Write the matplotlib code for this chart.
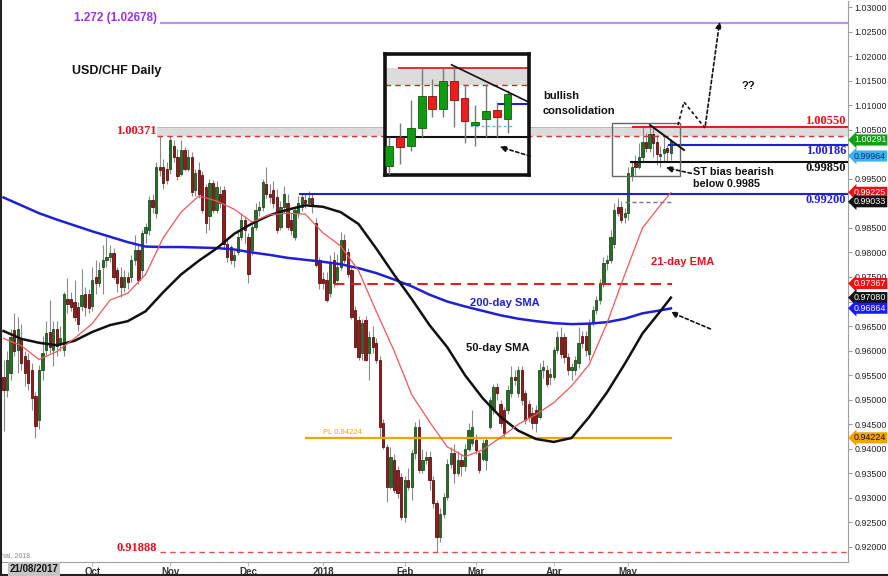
import numpy as np
import pandas as pd
import matplotlib
matplotlib.use("Agg")
import matplotlib.pyplot as plt
from matplotlib.transforms import blended_transform_factory
from matplotlib.patches import Rectangle
from matplotlib.lines import Line2D

# ---------------- data ----------------
start_date = "2017-08-28"

opens = [
    .9547, .9520, .9554, .9642, .9601, .9625, .9590, .9581, .9561, .9507,
    .9459, .9561, .9601, .9638, .9601, .9645, .9614, .9601, .9706, .9706,
    .9700, .9689, .9690, .9716, .9716, .9690, .9750, .9737, .9771, .9784,
    .9791, .9798, .9764, .9750, .9730, .9750, .9750, .9784, .9805, .9764,
    .9839, .9846, .9907, .9880, .9975, .9975, .9971, .9971, 1.0016, .9995,
    .9960, 1.0009, .9971, .9995, .9927, .9968, .9957, .9934, .9875, .9941,
    .9886, .9920, .9927, .9818, .9811, .9784, .9800, .9832, .9866, .9832,
    .9805, .9852, .9886, .9893, .9939, .9920, .9927, .9913, .9852, .9893,
    .9900, .9866, .9832, .9880, .9893, .9907, .9900, .9910, .9861, .9784,
    .9745, .9744, .9717, .9784, .9744, .9771, .9825, .9800, .9764, .9683,
    .9662, .9595, .9662, .9595, .9628, .9615, .9581, .9452, .9404, .9323,
    .9377, .9357, .9343, .9261, .9336, .9323, .9391, .9445, .9357, .9377,
    .9384, .9336, .9289, .9221, .9268, .9302, .9370, .9391, .9350, .9377,
    .9365, .9400, .9411, .9418, .9391, .9380, .9377, .9445, .9479, .9526,
    .9492, .9479, .9479, .9513, .9547, .9513, .9560, .9513, .9492, .9472,
    .9479, .9465, .9560, .9560, .9547, .9547, .9601, .9628, .9628, .9588,
    .9560, .9560, .9574, .9629, .9629, .9594, .9656, .9683, .9703, .9737,
    .9778, .9784, .9818, .9893, .9893, .9872, .9880, .9955, .9985, .9975,
    .9994, 1.0026, 1.0013, 1.0042, 1.0024, .9997, 1.0003, 1.0012, 1.0003,
]
highs = [
    .9580, .9600, .9645, .9676, .9669, .9655, .9600, .9595, .9575, .9515,
    .9570, .9630, .9660, .9703, .9660, .9660, .9650, .9720, .9747, .9720,
    .9743, .9700, .9767, .9730, .9725, .9770, .9784, .9780, .9815, .9832,
    .9815, .9810, .9770, .9770, .9765, .9760, .9795, .9836, .9815, .9845,
    .9860, .9915, .9920, .9985, 1.0037, .9990, .9985, 1.0037, 1.0030, 1.0010,
    1.0030, 1.0015, 1.0010, 1.0005, .9970, .9985, .9965, .9940, .9950, .9948,
    .9945, .9935, .9935, .9825, .9815, .9805, .9845, .9880, .9875, .9840,
    .9860, .9900, .9905, .9950, .9974, .9940, .9945, .9930, .9905, .9935,
    .9920, .9880, .9895, .9915, .9922, .9920, .9925, .9920, .9870, .9790,
    .9760, .9760, .9795, .9800, .9796, .9842, .9838, .9810, .9770, .9690,
    .9670, .9665, .9670, .9640, .9650, .9625, .9590, .9460, .9410, .9404,
    .9390, .9365, .9350, .9345, .9360, .9400, .9455, .9460, .9400, .9395,
    .9395, .9345, .9295, .9280, .9310, .9380, .9404, .9410, .9395, .9390,
    .9410, .9452, .9479, .9430, .9395, .9420, .9425, .9505, .9533, .9535,
    .9500, .9485, .9530, .9568, .9560, .9568, .9568, .9520, .9500, .9485,
    .9490, .9574, .9580, .9570, .9565, .9608, .9640, .9649, .9635, .9595,
    .9575, .9590, .9649, .9640, .9640, .9665, .9690, .9712, .9745, .9790,
    .9795, .9845, .9900, .9910, .9905, .9890, .9975, .9985, .9999, 1.0022,
    1.0055, 1.0044, 1.0055, 1.0055, 1.0039, 1.0017, 1.0039, 1.0019, 1.0032,
]
lows = [
    .9436, .9505, .9540, .9590, .9555, .9560, .9527, .9520, .9480, .9422,
    .9440, .9540, .9590, .9595, .9568, .9590, .9600, .9590, .9676, .9680,
    .9660, .9640, .9680, .9670, .9676, .9680, .9716, .9730, .9716, .9771,
    .9780, .9745, .9720, .9710, .9720, .9725, .9740, .9775, .9735, .9750,
    .9820, .9835, .9880, .9870, .9955, .9930, .9940, .9960, .9985, .9948,
    .9955, .9965, .9965, .9915, .9915, .9910, .9880, .9840, .9845, .9880,
    .9880, .9890, .9810, .9780, .9776, .9770, .9795, .9825, .9820, .9737,
    .9795, .9845, .9875, .9885, .9910, .9900, .9890, .9840, .9845, .9880,
    .9845, .9835, .9825, .9870, .9885, .9890, .9895, .9880, .9770, .9725,
    .9725, .9700, .9710, .9730, .9740, .9765, .9778, .9750, .9665, .9605,
    .9581, .9581, .9578, .9540, .9595, .9575, .9425, .9400, .9292, .9318,
    .9310, .9300, .9255, .9250, .9316, .9295, .9380, .9350, .9350, .9370,
    .9316, .9280, .91888, .9210, .9260, .9295, .9360, .9330, .9345, .9345,
    .9355, .9395, .9405, .9390, .9350, .9375, .9357, .9440, .9470, .9500,
    .9445, .9425, .9470, .9505, .9530, .9505, .9490, .9450, .9455, .9440,
    .9435, .9460, .9545, .9525, .9530, .9540, .9595, .9585, .9575, .9550,
    .9540, .9550, .9565, .9605, .9590, .9581, .9650, .9675, .9695, .9730,
    .9765, .9778, .9810, .9875, .9860, .9860, .9866, .9946, .9957, .9970,
    .9985, 1.0005, 1.0005, .9995, .9979, .9975, .9985, .9985, .9989,
]
closes = [
    .9520, .9580, .9628, .9600, .9645, .9574, .9554, .9534, .9503, .9446,
    .9561, .9595, .9635, .9608, .9645, .9610, .9625, .9716, .9696, .9689,
    .9669, .9655, .9713, .9689, .9686, .9743, .9737, .9764, .9784, .9791,
    .9798, .9750, .9737, .9730, .9750, .9740, .9784, .9805, .9744, .9839,
    .9852, .9907, .9893, .9975, .9968, .9941, .9948, 1.0029, .9995, .9955,
    1.0009, .9971, .9995, .9924, .9961, .9920, .9886, .9859, .9941, .9886,
    .9934, .9900, .9818, .9790, .9784, .9795, .9832, .9866, .9845, .9757,
    .9852, .9886, .9893, .9944, .9920, .9913, .9900, .9845, .9893, .9920,
    .9852, .9845, .9886, .9900, .9913, .9900, .9910, .9895, .9775, .9737,
    .9737, .9703, .9777, .9737, .9771, .9825, .9784, .9757, .9669, .9608,
    .9588, .9656, .9581, .9628, .9608, .9581, .9445, .9404, .9323, .9384,
    .9316, .9309, .9261, .9336, .9323, .9391, .9445, .9357, .9377, .9384,
    .9336, .9289, .9221, .9268, .9302, .9370, .9391, .9350, .9377, .9365,
    .9400, .9438, .9445, .9398, .9357, .9411, .9418, .9499, .9526, .9513,
    .9452, .9432, .9520, .9547, .9540, .9560, .9499, .9459, .9465, .9452,
    .9452, .9560, .9567, .9533, .9553, .9601, .9628, .9594, .9587, .9560,
    .9567, .9581, .9615, .9615, .9601, .9656, .9683, .9703, .9737, .9778,
    .9784, .9832, .9886, .9880, .9866, .9880, .9961, .9975, .9974, .9994,
    1.0026, 1.0013, 1.0042, 1.0022, 1.0001, 1.0000, 1.0011, 1.0005, 1.0028,
]

ma_days = [0, 5, 10, 15, 20, 25, 30, 35, 40, 45, 50, 55, 60, 65, 70, 75, 80, 85, 90, 95,
           100, 105, 110, 115, 120, 125, 130, 135, 140, 145, 150, 155, 160, 165, 170, 175,
           180, 185, 188]
sma200 = [.9912, .9896, .9880, .9867, .9855, .9843, .9832, .9821, .9812, .9811,
          .9811, .9810, .9809, .9806, .9800, .9795, .9789, .9785, .9781, .9776,
          .9768, .9758, .9745, .9731, .9714, .9700, .9690, .9681, .9672, .9665,
          .9660, .9656, .9654, .9655, .9658, .9665, .9676, .9682, .9686]
sma50 = [.9640, .9624, .9616, .9611, .9620, .9638, .9652, .9660, .9680, .9719,
         .9755, .9783, .9808, .9838, .9859, .9876, .9887, .9896, .9893, .9882,
         .9858, .9808, .9755, .9705, .9652, .9607, .9550, .9503, .9465, .9437,
         .9420, .9414, .9422, .9465, .9515, .9573, .9635, .9680, .9708]
ema21 = [.9625, .9610, .9582, .9598, .9625, .9655, .9703, .9717, .9755, .9830,
         .9882, .9915, .9905, .9888, .9862, .9877, .9880, .9878, .9840, .9813,
         .9763, .9680, .9600, .9510, .9455, .9404, .9384, .9398, .9423, .9450,
         .9470, .9494, .9528, .9572, .9656, .9755, .9850, .9896, .9922]

# horizontal levels
fib_ext = 1.02678
res_top = 1.00550
res_low = 1.00371
lvl_blue_hi = 1.00186
lvl_black = 0.99850
gap_lvl = 0.99033
lvl_blue_lo = 0.99200
red_lvl = 0.97367
pl_lvl = 0.94224
low_lvl = 0.91888

tag_values = [1.00291, 0.99964, 0.99225, 0.99033, 0.97367, 0.97080, 0.96864, 0.94224]
tag_labels = ["1.00291", "0.99964", "0.99225", "0.99033", "0.97367", "0.97080", "0.96864", "0.94224"]
tag_face = ["#12a012", "#3ab4ea", "#ee1111", "#111111", "#ee1111", "#111111", "#1a1aff", "#f5a400"]
tag_text = ["white", "#10308a", "white", "white", "white", "white", "white", "#111111"]

inset_first = 177  # first day shown in the inset

# ---------------- figure ----------------
W, H = 888, 576
fig = plt.figure(figsize=(W / 100, H / 100), dpi=100)
fig.patch.set_facecolor("white")
ax = fig.add_axes([1 / W, 14 / H, 847 / W, 561 / H])


def P(x, y):
    """pixel position in the picture -> data coordinates of the main axes"""
    return (x - 3.5) / 3.55, 1.03 - (y - 7) / 4909.0


ax.set_xlim(P(1, 0)[0], P(848, 0)[0])
ax.set_ylim(P(0, 562)[1], P(0, 1)[1])

SANS = ["Liberation Sans", "DejaVu Sans"]
SERIF = ["Liberation Serif", "DejaVu Serif"]

n = len(closes)
idx = np.arange(n)
dates = pd.bdate_range(start_date, periods=n)


def candles(a, ii, o, h, l, c, w, up, dn, upe, dne, wick, wlw, z=3):
    o, h, l, c = (np.asarray(v, float) for v in (o, h, l, c))
    a.vlines(ii, l, h, color=wick, lw=wlw, zorder=z)
    upm = c >= o
    bot = np.minimum(o, c)
    hgt = np.maximum(np.abs(c - o), 0.00006)
    a.bar(ii[upm], hgt[upm], w, bottom=bot[upm], color=up, edgecolor=upe, lw=0.6, zorder=z + 0.1)
    a.bar(ii[~upm], hgt[~upm], w, bottom=bot[~upm], color=dn, edgecolor=dne, lw=0.6, zorder=z + 0.1)


# grey resistance band
xr = ax.get_xlim()[1]
ax.fill_between([P(157, 0)[0], xr], res_low, res_top, color="#dcdcdc", zorder=1, lw=0)
ax.hlines(res_top, P(157, 0)[0], xr, color="#b0b0b0", lw=0.6, zorder=1.1)

candles(ax, idx, opens, highs, lows, closes, 0.62, "#2a6e2a", "#8e1d1d", "#1c4f1c", "#5e1010",
        "#8a8a8a", 0.8)

# moving averages
ax.plot(ma_days, sma200, color="#1f1fd8", lw=1.8, zorder=4)
ax.plot(ma_days, sma50, color="#111111", lw=1.8, zorder=4)
ax.plot(ma_days, ema21, color="#f05858", lw=0.9, zorder=4)

# levels
ax.hlines(fib_ext, P(160, 0)[0], xr, color="#b794f2", lw=1.6, zorder=3.5)
ax.hlines(res_low, P(157, 0)[0], xr, color="#e03030", lw=1.0, linestyles=(0, (4, 3)), zorder=3.5)
ax.hlines(res_top, P(632, 0)[0], xr, color="#e02020", lw=1.5, zorder=3.5)
ax.hlines(lvl_blue_hi, P(668, 0)[0], xr, color="#1f1fd8", lw=1.5, zorder=3.5)
ax.hlines(lvl_black, P(630, 0)[0], xr, color="#111111", lw=1.5, zorder=3.5)
ax.hlines(lvl_blue_lo, P(299, 0)[0], xr, color="#1f1fd8", lw=1.5, zorder=3.5)
ax.hlines(gap_lvl, P(625, 0)[0], P(671, 0)[0], color="#777777", lw=1.0, linestyles=(0, (3, 2)), zorder=3.5)
ax.hlines(red_lvl, P(334, 0)[0], P(672, 0)[0], color="#e02020", lw=1.5, linestyles=(0, (5, 3)), zorder=3.5)
ax.hlines(pl_lvl, P(305, 0)[0], P(672, 0)[0], color="#f0a400", lw=1.6, zorder=3.5)
ax.hlines(low_lvl, P(160, 0)[0], xr, color="#e05050", lw=1.0, linestyles=(0, (4, 3)), zorder=3.5)

# consolidation box and trend line
bx0, by0 = P(612, 176)
bx1, by1 = P(680, 123)
ax.add_patch(Rectangle((bx0, by0), bx1 - bx0, by1 - by0, fill=False, ec="#666666", lw=1.0, zorder=5))
ax.plot(*zip(P(650, 125), P(684, 150)), color="#111111", lw=1.4, zorder=5)

# dotted projection path
dot = (0, (2, 1.6))
path = [P(678, 125), P(684, 102), P(705, 128)]
ax.plot(*zip(*path), color="#111111", lw=1.2, ls=dot, zorder=5)
ax.annotate("", xy=P(720, 19), xytext=P(705, 128),
            arrowprops=dict(arrowstyle="-|>", color="#111111", lw=1.2, ls=dot, mutation_scale=9), zorder=5)
ax.annotate("", xy=P(663, 167), xytext=P(694, 174),
            arrowprops=dict(arrowstyle="-|>", color="#111111", lw=1.2, ls=dot, mutation_scale=9), zorder=5)
ax.annotate("", xy=P(668, 311), xytext=P(713, 330),
            arrowprops=dict(arrowstyle="-|>", color="#111111", lw=1.2, ls=dot, mutation_scale=9), zorder=5)

# ---------------- texts ----------------
def txt(x, y, s, **kw):
    ax.text(*P(x, y), s, zorder=6, **kw)


txt(74, 18, "1.272 (1.02678)", color="#9933ee", fontsize=8.5, fontweight="bold", family=SANS, va="center")
txt(72, 71, "USD/CHF Daily", color="#111111", fontsize=9, fontweight="bold", family=SANS, va="center")
txt(157, 131, "1.00371", color="#e8101c", fontsize=9, fontweight="bold", family=SERIF, va="center", ha="right")
txt(157, 548, "0.91888", color="#e8101c", fontsize=9, fontweight="bold", family=SERIF, va="center", ha="right")
txt(846, 121, "1.00550", color="#e8101c", fontsize=9, fontweight="bold", family=SERIF, va="center", ha="right")
txt(846, 151, "1.00186", color="#1f1fd8", fontsize=9, fontweight="bold", family=SERIF, va="center", ha="right")
txt(846, 168, "0.99850", color="#111111", fontsize=9, fontweight="bold", family=SERIF, va="center", ha="right")
txt(846, 200, "0.99200", color="#1f1fd8", fontsize=9, fontweight="bold", family=SERIF, va="center", ha="right")
txt(543, 96, "bullish", color="#111111", fontsize=8, fontweight="bold", family=SANS, va="center")
txt(543, 111, "consolidation", color="#111111", fontsize=8, fontweight="bold", family=SANS, va="center")
txt(741, 86, "??", color="#111111", fontsize=8, fontweight="bold", family=SANS, va="center")
txt(693, 172, "ST bias bearish", color="#111111", fontsize=7.8, fontweight="bold", family=SANS, va="center")
txt(693, 184, "below 0.9985", color="#111111", fontsize=7.8, fontweight="bold", family=SANS, va="center")
txt(651, 262, "21-day EMA", color="#e8101c", fontsize=8, fontweight="bold", family=SANS, va="center")
txt(470, 303, "200-day SMA", color="#1f1fd8", fontsize=8, fontweight="bold", family=SANS, va="center")
txt(466, 348, "50-day SMA", color="#111111", fontsize=8, fontweight="bold", family=SANS, va="center")
txt(323, 432, "PL 0.94224", color="#f0a400", fontsize=5.5, family=SANS, va="center")
txt(1, 556, "nal, 2018", color="#888888", fontsize=5, family=SANS, va="center")

# ---------------- axes styling ----------------
for s in ("top", "left"):
    ax.spines[s].set_visible(False)
for s in ("right", "bottom"):
    ax.spines[s].set_color("#a0a0a0")
    ax.spines[s].set_linewidth(0.8)

ax.yaxis.tick_right()
yt = np.round(np.arange(0.92, 1.03001, 0.005), 3)
ax.set_yticks(yt)
ax.set_yticklabels([f"{v:.5f}" for v in yt], family=SANS, fontsize=6.4, color="#222222")
ax.tick_params(axis="y", length=3, width=0.6, color="#888888", pad=1.5)

month_pos, month_lab = [], []
for i in range(1, n):
    if dates[i].month != dates[i - 1].month:
        if dates[i].month == 9:
            continue
        month_pos.append(i)
        month_lab.append(str(dates[i].year) if dates[i].month == 1 else dates[i].strftime("%b"))
ax.set_xticks(month_pos)
ax.set_xticklabels(month_lab, family=SANS, fontsize=7, fontweight="bold", color="#333333")
ax.tick_params(axis="x", length=3, width=0.6, color="#aaaaaa", pad=0.8)

# price tags on the right axis
tr = blended_transform_factory(ax.transAxes, ax.transData)
for v, lab, fc, tc in zip(tag_values, tag_labels, tag_face, tag_text):
    ax.text(1.007, v, lab, transform=tr, ha="left", va="center", fontsize=6.4, color=tc,
            family=SANS, clip_on=False, zorder=10,
            bbox=dict(boxstyle="larrow,pad=0.12", fc=fc, ec="none"))

fig.text(10 / W, 1 - 569 / H, "21/08/2017", fontsize=7, fontweight="bold", family=SANS,
         color="#111111", va="center", bbox=dict(fc="#c4c4c4", ec="none", pad=1.2))

# ---------------- inset (zoom on the last sessions) ----------------
ins = fig.add_axes([385 / W, 1 - 175 / H, 144 / W, 121 / H], zorder=8)
ins.set_xlim(176.6, 190.0)
ins.set_ylim(0.9946, 1.0069)
ins.set_xticks([])
ins.set_yticks([])
for s in ins.spines.values():
    s.set_linewidth(2.6)
    s.set_color("#111111")
ins.axhspan(res_low, res_top, color="#dcdcdc", zorder=1, lw=0)
ins.hlines(res_top, 177.8, 190.0, color="#e02020", lw=1.3, zorder=2)
ins.hlines(res_low, 176.6, 190.0, color="#e02020", lw=1.0, linestyles=(0, (4, 3)), zorder=2)
ins.hlines(lvl_black, 176.6, 190.0, color="#111111", lw=1.5, zorder=2)
ins.hlines(lvl_blue_hi, 187.0, 190.0, color="#1f1fd8", lw=1.5, zorder=2)
ins.hlines(0.9996, 184.5, 188.6, color="#55bbee", lw=1.0, linestyles=(0, (2, 2)), zorder=2)
ins.plot([182.8, 190.0], [1.0058, 1.0020], color="#111111", lw=1.2, zorder=5)
sl = slice(inset_first, n)
candles(ins, idx[sl], opens[sl], highs[sl], lows[sl], closes[sl], 0.74, "#109a10", "#ee1c1c",
        "#0b5e0b", "#8a0d0d", "#7a7a7a", 1.0)
ins.annotate("", xy=(497, H - 146), xytext=(533, H - 157), xycoords="figure pixels",
             textcoords="figure pixels", annotation_clip=False,
             arrowprops=dict(arrowstyle="-|>", color="#111111", lw=1.2, ls=dot, mutation_scale=9))

# outer frame of the screenshot
fig.add_artist(Line2D([0.6 / W, 0.6 / W], [0, 1], color="#222222", lw=1.5, transform=fig.transFigure))
fig.add_artist(Line2D([0, 1], [0.6 / H, 0.6 / H], color="#222222", lw=1.5, transform=fig.transFigure))

fig.savefig("out.png", dpi=100)
